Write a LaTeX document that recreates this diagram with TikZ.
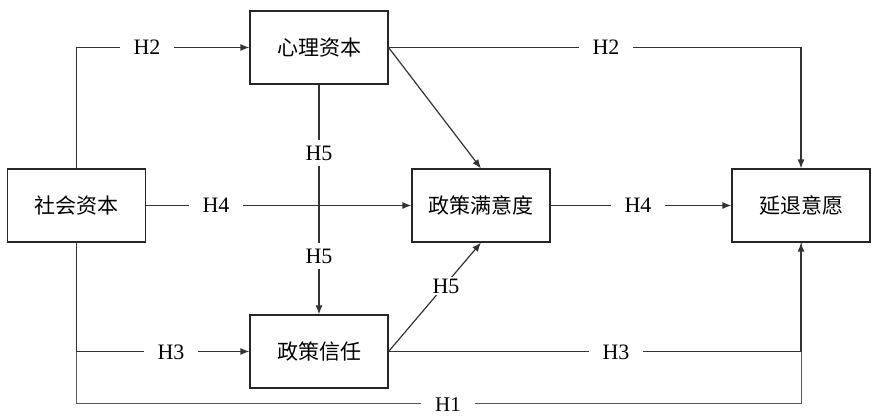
\documentclass[tikz,border=0pt]{standalone}
\usepackage{fontspec}
\setmainfont{Liberation Serif}
\newfontfamily\cjk{Noto Sans CJK SC}
\usetikzlibrary{arrows.meta}
\begin{document}
\begin{tikzpicture}[x=1pt,y=-1pt,
  box/.style={draw=black!85, line width=1.2pt, minimum width=138pt, minimum height=73pt, inner sep=0pt,
    font=\cjk\fontsize{21}{24}\selectfont},
  conn/.style={draw=black!80, line width=1.2pt},
  arr/.style={conn, -{Latex[length=9pt,width=7pt]}},
  lab/.style={fill=white, inner xsep=14pt, inner ysep=6pt, font=\fontsize{22}{24}\selectfont},
  dlab/.style={lab, inner xsep=3pt, inner ysep=2pt}]
\useasboundingbox (0,0) rectangle (873,417);
\fill[white] (0,0) rectangle (873,417);
% boxes
\node[box] (sc)  at (76.5,205.5) {社会资本};
\node[box] (psy) at (319,47.5)   {心理资本};
\node[box] (sat) at (481,205.5)  {政策满意度};
\node[box] (ret) at (801,205.5)  {延退意愿};
\node[box] (tru) at (319,351.5)  {政策信任};
\coordinate (h1r) at (801,403);
% H1
\draw[conn, draw=black!65, line width=1pt] (sc.south) |- (h1r) -- (ret.south);
% H2
\draw[arr] (sc.north) |- (psy.west);
\draw[arr] (psy.east) -| (ret.north);
% psy -> sat
\draw[arr] (psy.east) -- (sat.north);
% H5 vertical
\draw[arr] (psy.south) -- (tru.north);
% H4
\draw[arr] (sc.east) -- (sat.west);
\draw[arr] (sat.east) -- (ret.west);
% H5 diagonal
\draw[arr] (tru.east) -- (sat.south);
% H3
\draw[arr] (sc.south) |- (tru.west);
\draw[arr] (tru.east) -| (ret.south);
% labels
\node[lab] (l2a) at (147,47.5) {H2};
\node[lab] (l2b) at (606,47.5) {H2};
\node[lab] (l5a) at (319,153) {H5};
\node[lab] (l5b) at (319,256) {H5};
\node[lab] (l4a) at (216,205.5) {H4};
\node[lab] (l4b) at (638,205.5) {H4};
\node[dlab] (l5c) at (446,286) {H5};
\node[lab] (l3a) at (171,352) {H3};
\node[lab] (l3b) at (616,352) {H3};
\node[lab, inner ysep=2pt, font=\fontsize{21}{22}\selectfont] (l1) at (448,404.5) {H1};
\end{tikzpicture}
\end{document}
